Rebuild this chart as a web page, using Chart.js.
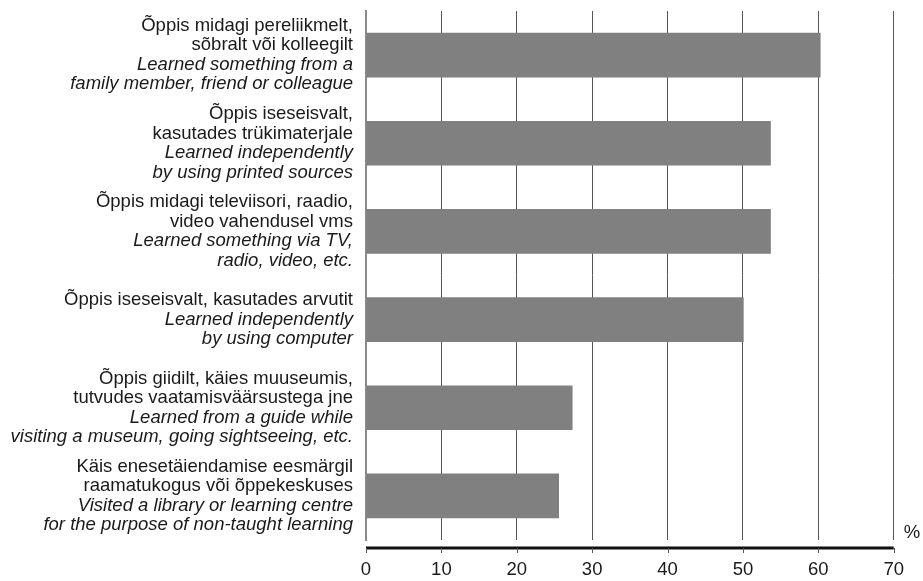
<!DOCTYPE html>
<html>
<head>
<meta charset="utf-8">
<script src="https://cdn.jsdelivr.net/npm/chart.js@4"></script>
<style>
  html, body { margin: 0; padding: 0; background: #fff; }
  #wrap { width: 923px; height: 581px; }
</style>
</head>
<body>
<div id="wrap"><canvas id="chart" width="923" height="581"></canvas></div>
<script>
// category labels, Estonian lines (normal) then English lines (italic)
const labelsEt = [
    ['Õppis midagi pereliikmelt,', 'sõbralt või kolleegilt'],
    ['Õppis iseseisvalt,', 'kasutades trükimaterjale'],
    ['Õppis midagi televiisori, raadio,', 'video vahendusel vms'],
    ['Õppis iseseisvalt, kasutades arvutit'],
    ['Õppis giidilt, käies muuseumis,', 'tutvudes vaatamisväärsustega jne'],
    ['Käis enesetäiendamise eesmärgil', 'raamatukogus või õppekeskuses']
];
const labelsEn = [
    ['Learned something from a', 'family member, friend or colleague'],
    ['Learned independently', 'by using printed sources'],
    ['Learned something via TV,', 'radio, video, etc.'],
    ['Learned independently', 'by using computer'],
    ['Learned from a guide while', 'visiting a museum, going sightseeing, etc.'],
    ['Visited a library or learning centre', 'for the purpose of non-taught learning']
];
const values = [60.3, 53.7, 53.7, 50.1, 27.4, 25.6];
const xTicks = [0, 10, 20, 30, 40, 50, 60, 70];
const unitLabel = '%';

const FONT = '"Liberation Sans", Arial, sans-serif';

// draws the two-style category labels, the bottom axis line and the unit
const labelPlugin = {
    id: 'labelPlugin',
    afterDraw(chart) {
        const ctx = chart.ctx;
        const area = chart.chartArea;
        const yScale = chart.scales.y;
        const xScale = chart.scales.x;
        const lineH = 19.5;
        ctx.save();
        ctx.fillStyle = '#1a1a1a';
        ctx.textAlign = 'right';
        ctx.textBaseline = 'middle';
        labelsEt.forEach((et, i) => {
            const lines = et.map(t => ({ t, it: false }))
                .concat(labelsEn[i].map(t => ({ t, it: true })));
            const cy = yScale.getPixelForValue(i);
            let y = cy - (lines.length - 1) / 2 * lineH;
            lines.forEach(l => {
                ctx.font = (l.it ? 'italic ' : '') + '18.5px ' + FONT;
                ctx.fillText(l.t, area.left - 13, y);
                y += lineH;
            });
        });

        // thick axis line below the plot, with small ticks
        const axisY = area.bottom + 8;
        ctx.strokeStyle = '#111';
        ctx.lineWidth = 3;
        ctx.beginPath();
        ctx.moveTo(area.left, axisY);
        ctx.lineTo(area.right, axisY);
        ctx.stroke();
        ctx.lineWidth = 1;
        ctx.strokeStyle = '#555';
        xTicks.forEach(v => {
            const x = Math.round(xScale.getPixelForValue(v)) + 0.5;
            ctx.beginPath();
            ctx.moveTo(x, axisY);
            ctx.lineTo(x, axisY + 5);
            ctx.stroke();
        });

        ctx.font = '18.5px ' + FONT;
        ctx.textAlign = 'left';
        ctx.fillText(unitLabel, area.right + 10, area.bottom - 7);
        ctx.restore();
    }
};

const ctx = document.getElementById('chart').getContext('2d');
new Chart(ctx, {
    type: 'bar',
    data: {
        labels: labelsEn.map(l => l.join(' ')),
        datasets: [{
            data: values,
            backgroundColor: '#808080',
            borderWidth: 0,
            categoryPercentage: 1,
            barPercentage: 0.507
        }]
    },
    options: {
        indexAxis: 'y',
        responsive: false,
        animation: false,
        layout: {
            padding: { left: 366, right: 29, top: 11, bottom: 0 }
        },
        plugins: {
            legend: { display: false },
            tooltip: { enabled: false }
        },
        scales: {
            x: {
                min: 0,
                max: 70,
                afterBuildTicks: scale => {
                    scale.ticks = xTicks.map(v => ({ value: v }));
                },
                afterFit: scale => { scale.height = 41; },
                grid: {
                    color: ctx => ctx.tick && ctx.tick.value === 0 ? 'rgba(0,0,0,0)' : '#555',
                    lineWidth: 1,
                    drawTicks: false
                },
                border: { display: false },
                ticks: {
                    padding: 19,
                    color: '#1a1a1a',
                    font: { family: FONT, size: 18.5 }
                }
            },
            y: {
                grid: { display: false },
                border: { display: true, color: '#8a8a8a', width: 2 },
                ticks: { display: false },
                afterFit: scale => { scale.width = 0; }
            }
        }
    },
    plugins: [labelPlugin]
});
</script>
</body>
</html>
